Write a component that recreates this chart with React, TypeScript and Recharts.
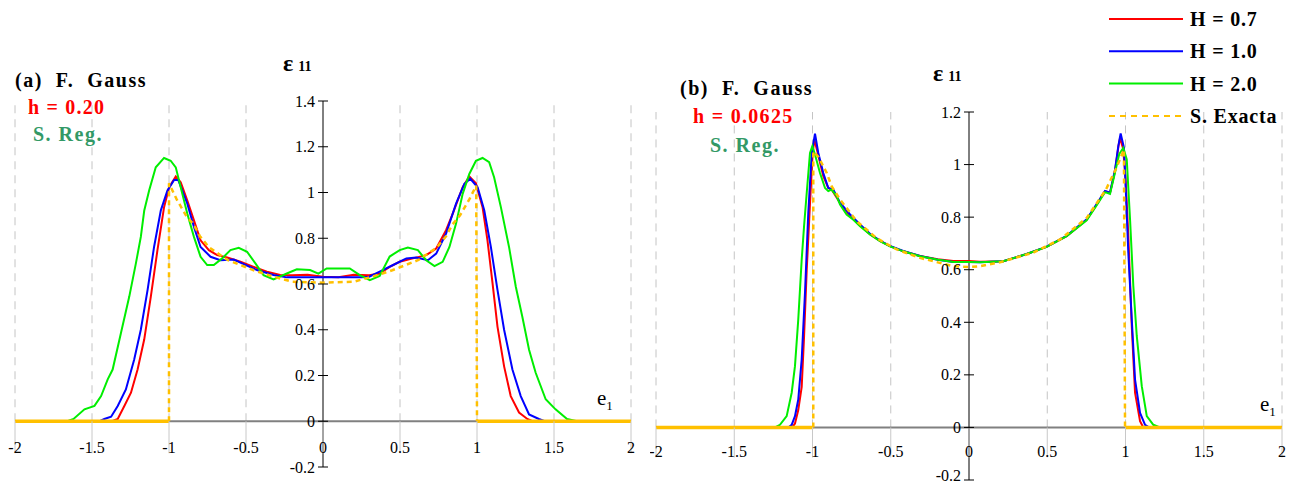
import React from 'react';
import { LineChart, Line, XAxis, YAxis, ReferenceLine, ReferenceDot } from 'recharts';

type Pt = [number, number | null];

// ---------- axes ----------
const X_TICKS = [-2, -1.5, -1, -0.5, 0, 0.5, 1, 1.5, 2];
const X_TICK_LABELS = ['-2', '-1.5', '-1', '-0.5', '0', '0.5', '1', '1.5', '2'];
const A_Y_TICKS = [-0.2, 0, 0.2, 0.4, 0.6, 0.8, 1, 1.2, 1.4];
const A_Y_LABELS = ['-0.2', '0', '0.2', '0.4', '0.6', '0.8', '1', '1.2', '1.4'];
const B_Y_TICKS = [-0.2, 0, 0.2, 0.4, 0.6, 0.8, 1, 1.2];
const B_Y_LABELS = ['-0.2', '0', '0.2', '0.4', '0.6', '0.8', '1', '1.2'];

// ---------- legend ----------
const SERIES_NAMES = ['H = 0.7', 'H = 1.0', 'H = 2.0', 'S. Exacta'];
const SERIES_COLORS = ['#ff0000', '#0000ff', '#00ee00', '#ffc000'];

// ---------- panel (a): h = 0.20 ----------
const A_RED: Pt[] = [[-2,0],[-1.37,0],[-1.333,0.01],[-1.29,0.067],[-1.247,0.125],[-1.204,0.226],[-1.161,0.357],[-1.118,0.545],[-1.075,0.748],[-1.032,0.936],[-0.999,1.023],[-0.956,1.07],[-0.924,1.045],[-0.881,0.965],[-0.838,0.878],[-0.795,0.791],[-0.741,0.748],[-0.687,0.726],[-0.622,0.716],[-0.536,0.697],[-0.45,0.675],[-0.364,0.654],[-0.278,0.639],[-0.2,0.638],[-0.1,0.64],[0,0.632],[0.1,0.63],[0.2,0.64],[0.3,0.638],[0.368,0.646],[0.433,0.675],[0.498,0.697],[0.584,0.712],[0.67,0.726],[0.735,0.755],[0.799,0.835],[0.842,0.907],[0.907,1.023],[0.95,1.07],[0.993,1.04],[1.036,0.936],[1.068,0.791],[1.101,0.603],[1.133,0.414],[1.176,0.24],[1.219,0.11],[1.273,0.038],[1.327,0.01],[1.36,0],[2,0]];
const A_BLUE: Pt[] = [[-2,0],[-1.45,0],[-1.42,0.01],[-1.376,0.02],[-1.333,0.067],[-1.28,0.139],[-1.226,0.27],[-1.183,0.4],[-1.139,0.574],[-1.097,0.762],[-1.053,0.922],[-1.01,1.009],[-0.967,1.055],[-0.94,1.055],[-0.881,0.951],[-0.838,0.849],[-0.795,0.762],[-0.73,0.719],[-0.666,0.704],[-0.579,0.707],[-0.515,0.687],[-0.429,0.661],[-0.321,0.639],[-0.235,0.629],[0,0.629],[0.25,0.629],[0.3,0.632],[0.368,0.654],[0.455,0.683],[0.541,0.712],[0.605,0.716],[0.681,0.704],[0.735,0.733],[0.799,0.82],[0.864,0.951],[0.918,1.038],[0.957,1.06],[1.004,1.023],[1.047,0.922],[1.09,0.762],[1.133,0.574],[1.176,0.4],[1.23,0.226],[1.284,0.11],[1.338,0.03],[1.402,0.01],[1.44,0],[2,0]];
const A_GREEN: Pt[] = [[-2,0],[-1.66,0],[-1.62,0.01],[-1.549,0.052],[-1.484,0.067],[-1.441,0.11],[-1.398,0.183],[-1.366,0.226],[-1.312,0.386],[-1.258,0.545],[-1.215,0.69],[-1.183,0.806],[-1.161,0.92],[-1.129,1.009],[-1.086,1.11],[-1.032,1.151],[-0.989,1.139],[-0.956,1.11],[-0.924,1.023],[-0.881,0.907],[-0.838,0.806],[-0.795,0.719],[-0.752,0.683],[-0.709,0.683],[-0.655,0.712],[-0.601,0.748],[-0.547,0.758],[-0.493,0.741],[-0.439,0.69],[-0.386,0.639],[-0.321,0.62],[-0.235,0.646],[-0.17,0.664],[-0.084,0.661],[-0.03,0.645],[0.024,0.668],[0.174,0.668],[0.239,0.639],[0.304,0.617],[0.368,0.635],[0.433,0.72],[0.498,0.748],[0.551,0.759],[0.616,0.748],[0.67,0.704],[0.724,0.678],[0.777,0.697],[0.821,0.762],[0.864,0.864],[0.907,0.994],[0.95,1.081],[0.993,1.139],[1.036,1.151],[1.079,1.133],[1.111,1.067],[1.155,0.936],[1.208,0.762],[1.252,0.588],[1.294,0.458],[1.338,0.313],[1.381,0.212],[1.446,0.096],[1.51,0.052],[1.585,0.01],[1.65,0],[2,0]];
const A_EXACT: Pt[] = [[-1,0],[-1,1.04],[-0.95,0.97],[-0.89,0.9],[-0.84,0.86],[-0.8,0.81],[-0.74,0.76],[-0.62,0.705],[-0.45,0.66],[-0.32,0.632],[-0.2,0.61],[0,0.606],[0.2,0.61],[0.32,0.632],[0.45,0.66],[0.62,0.705],[0.74,0.76],[0.8,0.81],[0.84,0.86],[0.89,0.9],[0.95,0.97],[0.995,1.03],[1,0]];
const A_EXACT_TAILS: Pt[] = [[-2,0],[-1,0],[0,null],[1,0],[2,0]];

// ---------- panel (b): h = 0.0625 ----------
const B_RED: Pt[] = [[-2,0],[-1.13,0],[-1.112,0.015],[-1.091,0.066],[-1.069,0.154],[-1.054,0.344],[-1.037,0.598],[-1.016,0.851],[-0.999,1.044],[-0.988,1.095],[-0.969,1.05],[-0.931,0.956],[-0.899,0.911],[-0.878,0.905],[-0.846,0.875],[-0.82,0.85],[-0.76,0.805],[-0.7,0.77],[-0.633,0.735],[-0.569,0.71],[-0.505,0.69],[-0.42,0.67],[-0.313,0.652],[-0.2,0.64],[-0.1,0.633],[0,0.633],[0.07,0.63],[0.219,0.632],[0.369,0.66],[0.496,0.687],[0.624,0.728],[0.752,0.79],[0.816,0.848],[0.869,0.899],[0.901,0.893],[0.933,0.975],[0.955,1.07],[0.965,1.1],[0.985,1.06],[1.0,0.95],[1.018,0.729],[1.04,0.386],[1.061,0.132],[1.093,0.024],[1.114,0],[2,0]];
const B_BLUE: Pt[] = [[-2,0],[-1.155,0],[-1.133,0.01],[-1.112,0.043],[-1.091,0.106],[-1.069,0.259],[-1.048,0.512],[-1.027,0.816],[-1.005,1.044],[-0.984,1.118],[-0.963,1.044],[-0.931,0.968],[-0.899,0.911],[-0.867,0.905],[-0.824,0.855],[-0.76,0.81],[-0.696,0.772],[-0.633,0.737],[-0.569,0.711],[-0.505,0.69],[-0.42,0.671],[-0.313,0.652],[-0.2,0.638],[-0.1,0.629],[0,0.629],[0.07,0.628],[0.219,0.632],[0.369,0.66],[0.496,0.688],[0.624,0.729],[0.752,0.792],[0.816,0.85],[0.869,0.9],[0.901,0.893],[0.933,0.98],[0.954,1.07],[0.969,1.118],[0.99,1.064],[0.997,0.975],[1.018,0.665],[1.04,0.411],[1.061,0.182],[1.093,0.055],[1.125,0.01],[1.15,0],[2,0]];
const B_GREEN: Pt[] = [[-2,0],[-1.24,0],[-1.208,0.01],[-1.165,0.043],[-1.133,0.132],[-1.112,0.233],[-1.091,0.41],[-1.069,0.639],[-1.054,0.765],[-1.037,0.892],[-1.016,1.044],[-1.001,1.07],[-0.984,1.038],[-0.952,0.968],[-0.92,0.911],[-0.899,0.899],[-0.878,0.905],[-0.846,0.88],[-0.824,0.848],[-0.782,0.81],[-0.739,0.79],[-0.696,0.765],[-0.633,0.734],[-0.569,0.709],[-0.505,0.689],[-0.42,0.67],[-0.313,0.651],[-0.206,0.639],[-0.1,0.629],[0,0.629],[0.07,0.628],[0.219,0.632],[0.369,0.66],[0.496,0.687],[0.624,0.728],[0.752,0.788],[0.816,0.845],[0.869,0.895],[0.901,0.888],[0.933,0.97],[0.96,1.04],[0.986,1.064],[1.008,1.02],[1.029,0.792],[1.05,0.538],[1.072,0.348],[1.104,0.157],[1.136,0.043],[1.178,0.01],[1.22,0],[2,0]];
const B_EXACT: Pt[] = [[-0.995,0],[-0.995,1.05],[-0.963,1.03],[-0.909,0.968],[-0.878,0.918],[-0.824,0.867],[-0.718,0.785],[-0.59,0.72],[-0.462,0.677],[-0.313,0.645],[-0.2,0.628],[-0.1,0.613],[0,0.61],[0.07,0.613],[0.197,0.628],[0.41,0.665],[0.582,0.715],[0.752,0.797],[0.875,0.905],[0.94,0.985],[0.99,1.057],[0.997,0]];
const B_EXACT_TAILS: Pt[] = [[-2,0],[-0.995,0],[0,null],[0.997,0],[2,0]];

const rows = (pts: Pt[]) => pts.map(([x, y]) => ({ x, y }));

const SERIF = '"Liberation Serif", "Times New Roman", serif';
const tickText = { fontFamily: SERIF, fontSize: 16, fill: '#000' };
const CANVAS_H = 487;

const XTick = (props: any) => {
  const { cx, cy, label, gap } = props;
  return (
    <g>
      <line x1={cx} y1={cy} x2={cx} y2={cy + gap} stroke="#c8c8c8" strokeWidth={1} />
      <text x={cx} y={cy + gap} textAnchor="middle" style={tickText}>{label}</text>
    </g>
  );
};

const YTick = (props: any) => {
  const { cx, cy, label } = props;
  // keep the lowest label fully inside the canvas
  const ty = Math.min(cy, CANVAS_H - 12);
  return (
    <g>
      <line x1={cx - 5} y1={cy} x2={cx + 5} y2={cy} stroke="#000" strokeWidth={1} />
      <text x={cx - 8} y={ty} dy="0.35em" textAnchor="end" style={tickText}>{label}</text>
    </g>
  );
};

type PanelProps = {
  left: number;
  margin: { top: number; right: number; bottom: number; left: number };
  yDomain: [number, number];
  yTicks: number[];
  yLabels: string[];
  labelGap: number;
  red: Pt[]; blue: Pt[]; green: Pt[]; exact: Pt[]; tails: Pt[];
};

function Panel(p: PanelProps) {
  const yTop = p.yDomain[1];
  return (
    <div style={{ position: 'absolute', left: p.left, top: 0 }}>
      <LineChart width={650} height={CANVAS_H} margin={p.margin}>
        <XAxis type="number" dataKey="x" domain={[-2, 2]} ticks={X_TICKS} hide allowDataOverflow />
        <YAxis type="number" dataKey="y" domain={p.yDomain} ticks={p.yTicks} hide allowDataOverflow />
        {X_TICKS.filter((v) => v !== 0).map((v) => (
          <ReferenceLine key={'g' + v} segment={[{ x: v, y: 0 }, { x: v, y: yTop }]} stroke="#c4c4c4" strokeWidth={1} strokeDasharray="8 6" ifOverflow="visible" />
        ))}
        {X_TICKS.map((v, i) => (
          <ReferenceDot key={'xt' + v} x={v} y={0} r={0} ifOverflow="visible"
            shape={(sp: any) => <XTick cx={sp.cx} cy={sp.cy} gap={p.labelGap} label={X_TICK_LABELS[i]} />} />
        ))}
        <ReferenceLine y={0} stroke="#808080" strokeWidth={2} ifOverflow="visible" />
        <ReferenceLine segment={[{ x: 0, y: p.yDomain[0] }, { x: 0, y: yTop }]} stroke="#000" strokeWidth={1} ifOverflow="visible" />
        {p.yTicks.map((v, i) => (
          <ReferenceDot key={'yt' + v} x={0} y={v} r={0} ifOverflow="visible"
            shape={(sp: any) => <YTick cx={sp.cx} cy={sp.cy} label={p.yLabels[i]} />} />
        ))}
        <Line data={rows(p.red)} dataKey="y" type="linear" stroke={SERIES_COLORS[0]} strokeWidth={2} dot={false} activeDot={false} isAnimationActive={false} />
        <Line data={rows(p.blue)} dataKey="y" type="linear" stroke={SERIES_COLORS[1]} strokeWidth={2} dot={false} activeDot={false} isAnimationActive={false} />
        <Line data={rows(p.green)} dataKey="y" type="linear" stroke={SERIES_COLORS[2]} strokeWidth={2} dot={false} activeDot={false} isAnimationActive={false} />
        <Line data={rows(p.tails)} dataKey="y" type="linear" stroke={SERIES_COLORS[3]} strokeWidth={3.5} dot={false} activeDot={false} isAnimationActive={false} />
        <Line data={rows(p.exact)} dataKey="y" type="linear" stroke={SERIES_COLORS[3]} strokeWidth={2.5} strokeDasharray="5 4" dot={false} activeDot={false} isAnimationActive={false} />
      </LineChart>
    </div>
  );
}

const boldText = { fontFamily: SERIF, fontWeight: 700 as const, whiteSpace: 'pre' as const };

export default function App() {
  return (
    <div style={{ position: 'absolute', left: 0, top: 0, width: 1300, height: CANVAS_H, background: '#fff', overflow: 'hidden' }}>
      <Panel left={0} margin={{ top: 101, right: 19, bottom: 20, left: 15 }} yDomain={[-0.2, 1.4]} labelGap={32}
        yTicks={A_Y_TICKS} yLabels={A_Y_LABELS} red={A_RED} blue={A_BLUE} green={A_GREEN} exact={A_EXACT} tails={A_EXACT_TAILS} />
      <Panel left={650} margin={{ top: 112, right: 18, bottom: 7, left: 6 }} yDomain={[-0.2, 1.2]} labelGap={30}
        yTicks={B_Y_TICKS} yLabels={B_Y_LABELS} red={B_RED} blue={B_BLUE} green={B_GREEN} exact={B_EXACT} tails={B_EXACT_TAILS} />
      <svg width={1300} height={CANVAS_H} style={{ position: 'absolute', left: 0, top: 0, pointerEvents: 'none' }}>
        {/* panel (a) annotations */}
        <text x={15} y={87} fontSize={20} letterSpacing={1.5} fill="#000" style={boldText}>{'(a)  F.  Gauss'}</text>
        <text x={28} y={114} fontSize={20} letterSpacing={1.2} fill="#ff0000" style={boldText}>{'h = 0.20'}</text>
        <text x={33} y={141} fontSize={20} letterSpacing={1.5} fill="#339966" style={boldText}>{'S. Reg.'}</text>
        <text x={283} y={71} fill="#000" style={boldText}>
          <tspan fontSize={24}>ε</tspan>
          <tspan fontSize={14} dx={5}>11</tspan>
        </text>
        <text x={597} y={405} fill="#000" style={{ fontFamily: SERIF, fontSize: 21 }}>
          e<tspan fontSize={13} dy={5}>1</tspan>
        </text>
        {/* panel (b) annotations */}
        <text x={680} y={95} fontSize={20} letterSpacing={1.5} fill="#000" style={boldText}>{'(b)  F.  Gauss'}</text>
        <text x={693} y={123} fontSize={20} letterSpacing={1.3} fill="#ff0000" style={boldText}>{'h = 0.0625'}</text>
        <text x={710} y={152} fontSize={20} letterSpacing={1.5} fill="#339966" style={boldText}>{'S. Reg.'}</text>
        <text x={933} y={81} fill="#000" style={boldText}>
          <tspan fontSize={24}>ε</tspan>
          <tspan fontSize={14} dx={5}>11</tspan>
        </text>
        <text x={1260} y={411} fill="#000" style={{ fontFamily: SERIF, fontSize: 21 }}>
          e<tspan fontSize={13} dy={5}>1</tspan>
        </text>
        {/* legend */}
        {SERIES_NAMES.map((name, i) => (
          <g key={name}>
            <line x1={1109} x2={1183} y1={19 + i * 32.3} y2={19 + i * 32.3} stroke={SERIES_COLORS[i]}
              strokeWidth={2} strokeDasharray={i === 3 ? '6 5' : undefined} />
            <text x={1190} y={19 + i * 32.3 + 7} fontSize={20} letterSpacing={0.8} fill="#000" style={boldText}>{name}</text>
          </g>
        ))}
      </svg>
    </div>
  );
}
